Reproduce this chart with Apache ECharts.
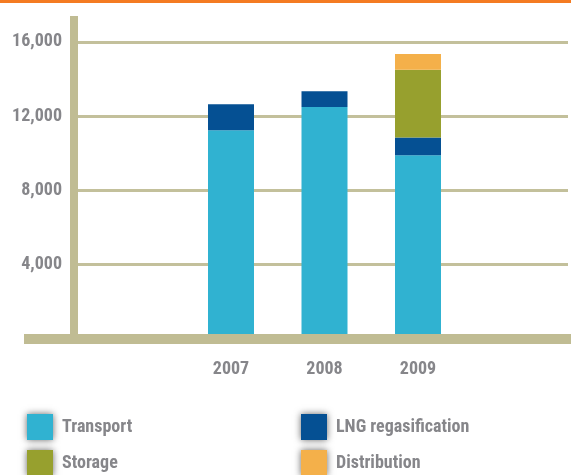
<!DOCTYPE html>
<html>
<head>
<meta charset="utf-8">
<script src="https://cdn.jsdelivr.net/npm/echarts@6/dist/echarts.min.js"></script>
<style>html,body{margin:0;padding:0;background:#fff}#c{width:571px;height:475px}</style>
</head>
<body>
<div id="c"></div>
<script>
const years = ['2007', '2008', '2009'];
const transport = [11250, 12500, 9900];
const lngRegasification = [1400, 850, 950];
const storage = [0, 0, 3650];
const distribution = [0, 0, 850];
const yTicks = [4000, 8000, 12000, 16000];

const categories = [''].concat(years, ['']);
function padded(vals) { return [null].concat(vals, [null]); }

const FONT = "'Roboto Condensed', 'Liberation Sans', sans-serif";
const FS = 18;
const TXT = '#86868a';
const AXC = '#c0bc93';

const chart = echarts.init(document.getElementById('c'), null, {renderer: 'canvas'});
const seriesDefs = [
  {name: 'Transport', data: transport, color: '#30b2d1', left: 27, top: 414},
  {name: 'LNG regasification', data: lngRegasification, color: '#055093', left: 301, top: 414},
  {name: 'Storage', data: storage, color: '#97a02e', left: 27, top: 450},
  {name: 'Distribution', data: distribution, color: '#f4b04a', left: 301, top: 450}
];
const legends = seriesDefs.map(s => ({
  left: s.left, top: s.top, data: [s.name],
  itemWidth: 26, itemHeight: 26, padding: 0, icon: 'rect',
  itemStyle: {shadowBlur: 7, shadowColor: 'rgba(0,0,0,0.6)'},
  textStyle: {fontFamily: FONT, fontWeight: 'bold', fontSize: FS, color: TXT, padding: [2, 0, 0, 4]}
}));
chart.setOption({
  animation: false,
  graphic: [{type: 'rect', left: 0, top: 0, shape: {width: 571, height: 3}, style: {fill: '#f47b22'}}],
  legend: legends,
  grid: [
    {left: 90.75, right: 12.75, top: 16, bottom: 136},
    {left: 24, right: 0, top: 16, bottom: 136},
    {left: 74, right: 3, top: 16, bottom: 136}
  ],
  xAxis: [
    {
      type: 'category', gridIndex: 0, data: categories,
      axisLine: {show: false}, axisTick: {show: false}, splitLine: {show: false},
      axisLabel: {margin: 21, fontFamily: FONT, fontWeight: 'bold', fontSize: FS, color: TXT}
    },
    {
      type: 'value', gridIndex: 1, min: 0, max: 1, z: 5,
      axisLine: {show: true, lineStyle: {color: AXC, width: 10, cap: 'butt'}},
      axisTick: {show: false}, axisLabel: {show: false}, splitLine: {show: false}
    },
    {type: 'value', gridIndex: 2, show: false, min: 0, max: 1}
  ],
  yAxis: [
    {
      type: 'value', gridIndex: 0, min: 0, max: 17400, interval: 4000, offset: 16.75, z: 4,
      axisLine: {show: true, lineStyle: {color: AXC, width: 8, cap: 'butt'}},
      axisTick: {show: false},
      splitLine: {show: false},
      axisLabel: {
        customValues: yTicks, margin: 12,
        fontFamily: FONT, fontWeight: 'bold', fontSize: FS, color: TXT,
        formatter: v => v.toLocaleString('en-US')
      }
    },
    {type: 'value', gridIndex: 1, show: false, min: 0, max: 1},
    {
      type: 'value', gridIndex: 2, min: 0, max: 17400, interval: 4000,
      axisLine: {show: false}, axisTick: {show: false}, axisLabel: {show: false},
      splitLine: {show: true, showMinLine: false, showMaxLine: false, lineStyle: {color: '#c3c09b', width: 3}}
    }
  ],
  series: seriesDefs.map(s => ({
    name: s.name, type: 'bar', stack: 'total', xAxisIndex: 0, yAxisIndex: 0,
    barWidth: 46, data: padded(s.data), itemStyle: {color: s.color}
  }))
});
</script>
</body>
</html>
